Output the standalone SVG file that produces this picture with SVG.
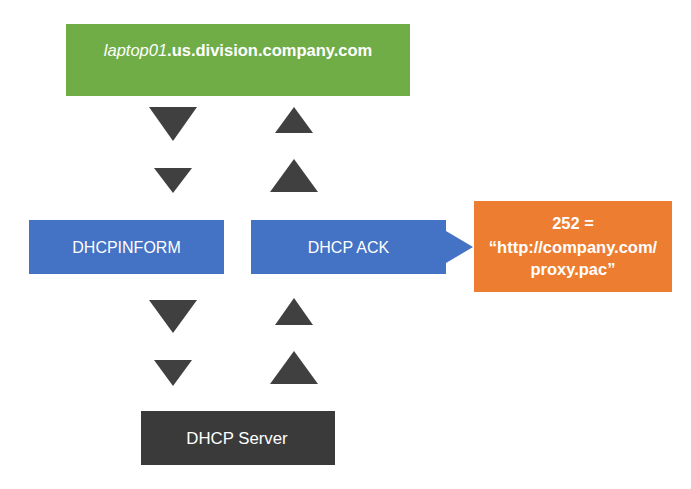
<svg xmlns="http://www.w3.org/2000/svg" width="691" height="489" viewBox="0 0 691 489">
<style>
.t{font-family:"Liberation Sans",Arial,sans-serif;fill:#fff;text-anchor:middle}
.b{font-weight:bold;font-size:16.5px}
.r{font-size:16px}
.tri{fill:#404040}
</style>
<rect width="691" height="489" fill="#fff"/>
<g id="laptop">
<rect x="66" y="24" width="344" height="72" fill="#70AD47"/>
<text class="t" x="238" y="56" font-size="16.5px"><tspan font-style="italic">laptop01</tspan><tspan font-weight="bold">.us.division.company.com</tspan></text>
</g>
<g id="connectors">
<polygon class="tri" points="149,107 197,107 173,141"/>
<polygon class="tri" points="275,133 313,133 294,107"/>
<polygon class="tri" points="154,168 192,168 173,193"/>
<polygon class="tri" points="270,192 318,192 294,159"/>
<polygon class="tri" points="149,300 197,300 173,333"/>
<polygon class="tri" points="275,325 313,325 294,298"/>
<polygon class="tri" points="154,360 192,360 173,386"/>
<polygon class="tri" points="270,384 318,384 294,351"/>
</g>
<g id="dhcpinform">
<rect x="29" y="220" width="195" height="54" fill="#4472C4"/>
<text class="t r" x="126.5" y="252.7">DHCPINFORM</text>
</g>
<g id="dhcpack">
<polygon points="251,220 446,220 446,231 473,247 446,263 446,274 251,274" fill="#4472C4"/>
<text class="t r" x="348.5" y="252.7">DHCP ACK</text>
</g>
<g id="option252">
<rect x="474" y="201" width="198" height="91" fill="#ED7D31"/>
<text class="t b" x="573" y="229.3">252 =</text>
<text class="t b" x="573" y="252.8">“http://company.com/</text>
<text class="t b" x="573" y="275">proxy.pac”</text>
</g>
<g id="server">
<rect x="141" y="411" width="194" height="54" fill="#3A3A3A"/>
<text class="t" x="237" y="443.5" font-size="16.8px">DHCP Server</text>
</g>
</svg>
